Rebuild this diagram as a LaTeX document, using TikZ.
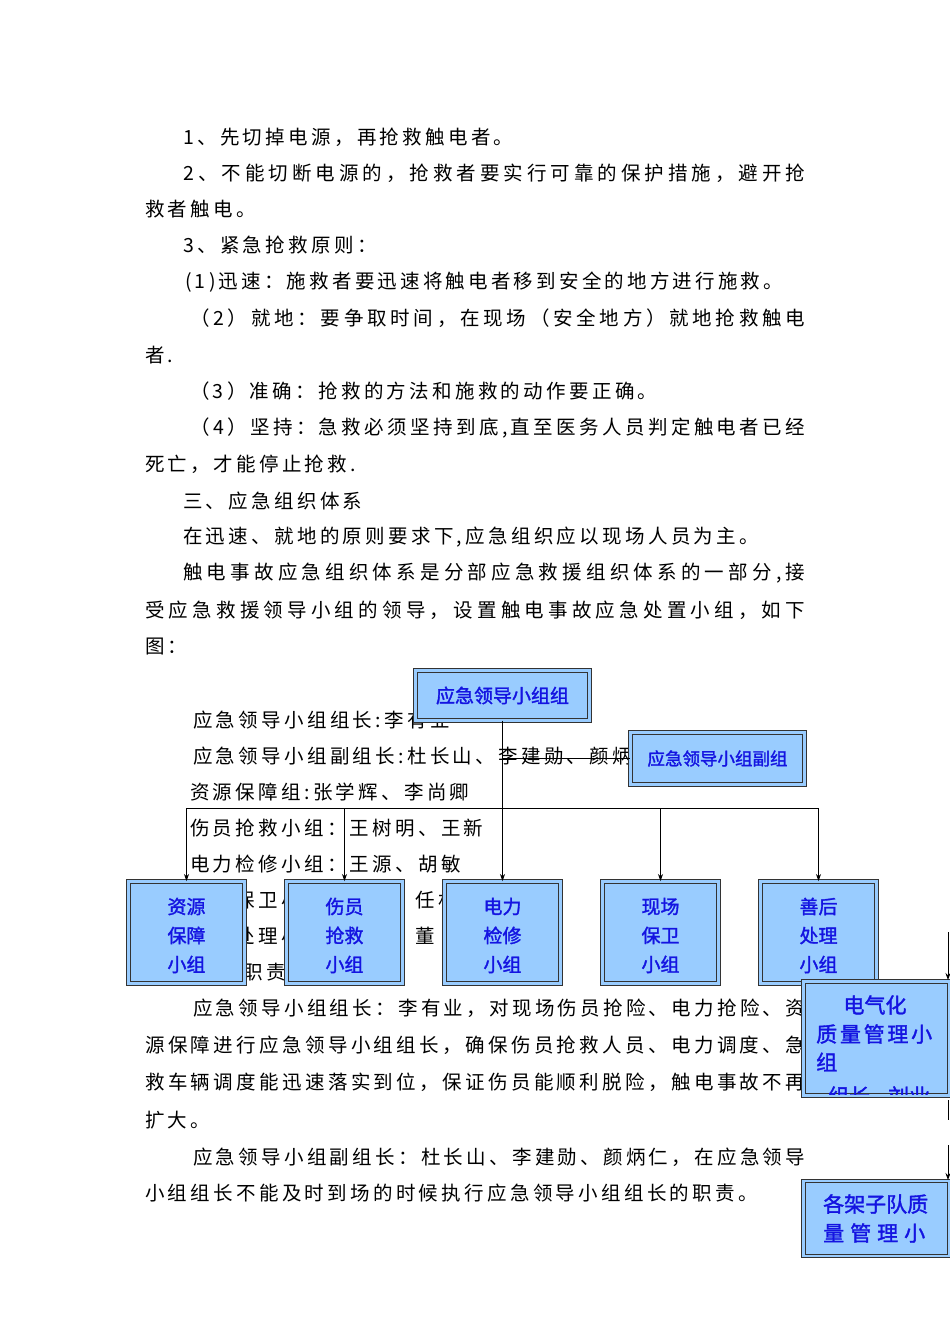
\documentclass[tikz,border=0pt]{standalone}
\usepackage{fontspec}
\setmainfont{Noto Sans CJK SC}[LetterSpace=17]
\newfontfamily\boxfont{Noto Sans CJK SC}[FakeBold=1.6]
\usetikzlibrary{arrows.meta}
\definecolor{boxblue}{RGB}{153,204,255}
\definecolor{boxtext}{RGB}{20,20,225}
\def\spr#1{\ifx#1\relax\else#1\hfil\expandafter\spr\fi}
\newcommand{\fl}[2]{\hbox to #1{\spr#2\relax\unskip}}
\tikzset{
 tx/.style={anchor=west,inner sep=0pt,font=\fontsize{19.5}{20}\selectfont},
 bx/.style={draw=black!80,line width=0.9pt,double=boxblue,double distance=2.6pt,fill=boxblue,inner sep=0pt},
 bt/.style={inner sep=0pt,text=boxtext,font=\boxfont\fontsize{19}{29}\selectfont,align=center},
 ar/.style={draw=black,line width=0.8pt,-{Stealth[length=7pt,width=5pt]}},
 ln/.style={draw=black,line width=0.8pt}
}
\begin{document}
\begin{tikzpicture}[x=1pt,y=-1pt]
\fill[white] (0,0) rectangle (950,1344);
\useasboundingbox (0,0) rectangle (950,1344);
% body text
\node[tx] (t1) at (183,137) {1、先切掉电源，再抢救触电者。};
\node[tx] (t2) at (183,173) {\fl{622pt}{2、不能切断电源的，抢救者要实行可靠的保护措施，避开抢}};
\node[tx] (t3) at (145,209) {救者触电。};
\node[tx] (t4) at (183,245) {3、紧急抢救原则：};
\node[tx] (t5) at (185,282) {\fl{598pt}{(1)迅速：施救者要迅速将触电者移到安全的地方进行施救。}};
\node[tx] (t6) at (190,318) {\fl{615pt}{（2）就地：要争取时间，在现场（安全地方）就地抢救触电}};
\node[tx] (t7) at (145,355) {者.};
\node[tx] (t8) at (190,391) {（3）准确：抢救的方法和施救的动作要正确。};
\node[tx] (t9) at (190,428) {\fl{615pt}{（4）坚持：急救必须坚持到底,直至医务人员判定触电者已经}};
\node[tx] (t10) at (145,464) {死亡，才能停止抢救.};
\node[tx] (t11) at (183,501) {三、应急组织体系};
\node[tx] (t12) at (183,537) {在迅速、就地的原则要求下,应急组织应以现场人员为主。};
\node[tx] (t13) at (183,573) {\fl{622pt}{触电事故应急组织体系是分部应急救援组织体系的一部分,接}};
\node[tx] (t14) at (145,610) {\fl{660pt}{受应急救援领导小组的领导，设置触电事故应急处置小组，如下}};
\node[tx] (t15) at (145,647) {图：};
\node[tx] (t16) at (193,720) {应急领导小组组长:李有业};
\node[tx] (t17) at (193,756) {应急领导小组副组长:杜长山、李建勋、颜炳仁};
\node[tx] (t18) at (190,792) {资源保障组:张学辉、李尚卿};
\node[tx] (t19) at (190,828) {伤员抢救小组：王树明、王新};
\node[tx] (t20) at (190,864) {电力检修小组：王源、胡敏};
\node[tx] (t21) at (190,900) {现场保卫小组：};
\node[tx] (t21b) at (415,900) {任林};
\node[tx] (t22) at (190,936) {善后处理小组：};
\node[tx] (t22b) at (415,936) {董};
\node[tx] (t23) at (198,972) {各组职责};
\node[tx] (t24) at (193,1008) {\fl{612pt}{应急领导小组组长：李有业，对现场伤员抢险、电力抢险、资}};
\node[tx] (t25) at (145,1045) {\fl{660pt}{源保障进行应急领导小组组长，确保伤员抢救人员、电力调度、急}};
\node[tx] (t26) at (145,1082) {\fl{660pt}{救车辆调度能迅速落实到位，保证伤员能顺利脱险，触电事故不再}};
\node[tx] (t27) at (145,1120) {扩大。};
\node[tx] (t28) at (193,1157) {\fl{612pt}{应急领导小组副组长：杜长山、李建勋、颜炳仁，在应急领导}};
\node[tx] (t29) at (145,1193) {小组组长不能及时到场的时候执行应急领导小组组长的职责。};
% boxes
\node[bx,minimum width=174pt,minimum height=50pt] (top) at (502.5,695.5) {};
\node[bt] at (top) {应急领导小组组};
\node[bx,minimum width=174pt,minimum height=52pt] (dep) at (717.5,758.5) {};
\node[bt,font=\boxfont\fontsize{17.5}{20}\selectfont] at (dep) {应急领导小组副组};
\foreach \n/\x/\a/\b in {b1/186.5/资源/保障, b2/344.5/伤员/抢救, b3/502.5/电力/检修, b4/660.5/现场/保卫, b5/818.5/善后/处理}{
  \node[bx,minimum width=116pt,minimum height=102pt] (\n) at (\x,932.5) {};
  \node[bt] at ([yshift=-3pt]\n.center) {\a\\\b\\小组};
}
% connectors
\coordinate (bl) at (186.5,808);
\coordinate (br) at (818.5,808);
\draw[ln] (bl) -- (br);
\draw[ln] (top.south) -- (top.south|-dep.west) -- (dep.west);
\draw[ar] (top.south) -- (b3.north);
\draw[ar] (bl) -- (b1.north);
\draw[ar] (b2.north|-bl) -- (b2.north);
\draw[ar] (b4.north|-bl) -- (b4.north);
\draw[ar] (br) -- (b5.north);
% right column
\node[bx,minimum width=146pt,minimum height=114pt] (el) at (876.5,1038.5) {};
\begin{scope}
\clip (803,983) rectangle (948,1094);
\node[bt,font=\boxfont\fontsize{21}{22}\selectfont] (el1) at (875,1005) {电气化};
\node[bt,font=\boxfont\fontsize{21}{22}\selectfont,anchor=west] (el2) at (816,1034) {\fl{116pt}{质量管理小}};
\node[bt,font=\boxfont\fontsize{21}{22}\selectfont,anchor=west] (el3) at (816,1062) {组};
\node[bt,font=\boxfont\fontsize{21}{22}\selectfont,anchor=west] (el4) at (828,1096) {组长\hspace{18pt}刘业};
\end{scope}
\node[bx,minimum width=146pt,minimum height=75pt] (sub) at (876.5,1218.5) {};
\node[bt,font=\boxfont\fontsize{21}{22}\selectfont,anchor=west] (s1) at (823,1204) {\fl{102pt}{各架子队质}};
\node[bt,font=\boxfont\fontsize{21}{22}\selectfont,anchor=west] (s2) at (823,1233) {\fl{102pt}{量管理小}};
\coordinate (r1) at (948,932);
\coordinate (r1e) at (948,980);
\coordinate (r2) at (948,1100);
\coordinate (r2e) at (948,1120);
\coordinate (r3) at (948,1145);
\coordinate (r3e) at (948,1180);
\draw[ar] (r1) -- (r1e);
\draw[ln] (r2) -- (r2e);
\draw[ar] (r3) -- (r3e);
\end{tikzpicture}
\end{document}
